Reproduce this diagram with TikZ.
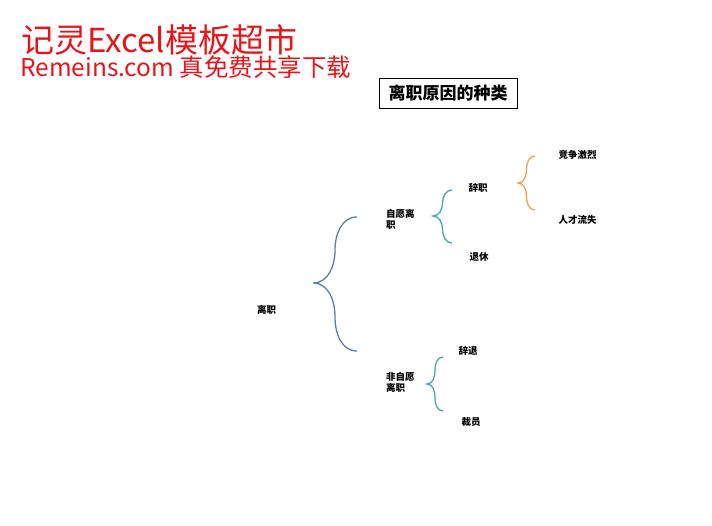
\documentclass[tikz,border=0pt]{standalone}
\usepackage{fontspec}
\setmainfont{Noto Sans CJK SC}
\usetikzlibrary{calc}

\definecolor{wmred}{RGB}{232,20,25}
\definecolor{braceblue}{RGB}{92,126,166}
\definecolor{braceteal}{RGB}{76,164,180}
\definecolor{braceorange}{RGB}{240,160,82}

% curly brace: colour, tip, top end, bottom end
\newcommand{\curlybrace}[4]{%
  \draw[#1, line width=1.3pt]
    (#3) to[out=180,in=90] ($(#2)!0.5!(#3)$) to[out=-90,in=0] (#2)
    to[out=0,in=90] ($(#2)!0.5!(#4)$) to[out=-90,in=180] (#4);}

\begin{document}
\begin{tikzpicture}[x=1pt, y=1pt,
  every node/.style = {inner sep=0pt,
    font=\bfseries\fontsize{9.5}{11}\selectfont},
  item/.style = {align=left, anchor=west},
  mark line/.style = {font=\fontsize{33}{33}\selectfont, text=wmred, anchor=west}]
  \useasboundingbox (0,0) rectangle (712,-526);

  % watermark
  \node[mark line] (wm1) at (21,-40) {记灵Excel模板超市};
  \node[mark line, font=\fontsize{24.5}{24.5}\selectfont] (wm2) at (20,-67)
    {Remeins.com 真免费共享下载};

  % title
  \node[draw, line width=0.6pt, minimum width=138pt, minimum height=30pt,
    font=\bfseries\fontsize{17}{17}\selectfont] (title) at (448,-93) {离职原因的种类};

  % labels
  \node (root) at (266.5,-309.5) {离职};
  \node[item] (vol) at (386,-219.5) {自愿离\\职};
  \node[item] (invol) at (386,-382.5) {非自愿\\离职};
  \node (resign) at (478,-187.5) {辞职};
  \node (retire) at (479,-256.5) {退休};
  \node (compete) at (577.5,-155) {竞争激烈};
  \node (talent) at (577.5,-219.5) {人才流失};
  \node (dismiss) at (468,-351) {辞退};
  \node (layoff) at (471,-422) {裁员};

  % brace ends
  \coordinate (b1tip) at (313,-283);
  \coordinate (b1top) at (357,-217);
  \coordinate (b1bot) at (357,-351);
  \coordinate (b2tip) at (433,-216);
  \coordinate (b2top) at (452,-190);
  \coordinate (b2bot) at (452,-243);
  \coordinate (b3tip) at (518,-183);
  \coordinate (b3top) at (535,-156);
  \coordinate (b3bot) at (535,-210);
  \coordinate (b4tip) at (427,-384);
  \coordinate (b4top) at (443,-357);
  \coordinate (b4bot) at (443,-411);

  \curlybrace{braceblue}{b1tip}{b1top}{b1bot}
  \curlybrace{braceteal}{b2tip}{b2top}{b2bot}
  \curlybrace{braceorange}{b3tip}{b3top}{b3bot}
  \curlybrace{braceteal}{b4tip}{b4top}{b4bot}
\end{tikzpicture}
\end{document}
